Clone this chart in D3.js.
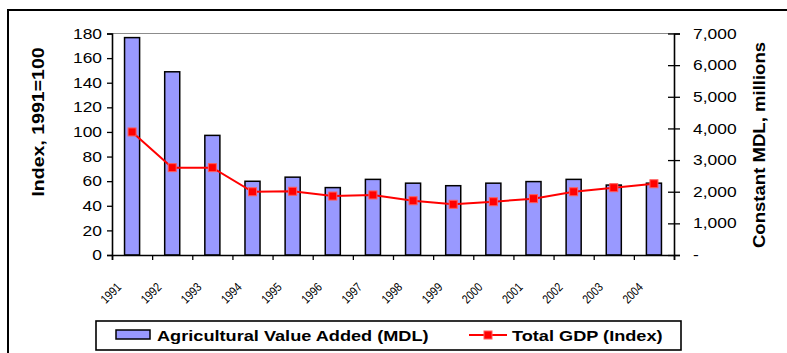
<!DOCTYPE html>
<html>
<head>
<meta charset="utf-8">
<script src="https://cdn.jsdelivr.net/npm/d3@7"></script>
<style>
  body { margin: 0; background: #fff; }
  svg { display: block; }
  text { font-family: "Liberation Sans", Arial, sans-serif; fill: #000; }
</style>
</head>
<body>
<svg id="chart" width="787" height="353"></svg>
<script>
// Moldova: agricultural value added (constant MDL, millions) and total GDP index (1991=100)
const years = ["1991","1992","1993","1994","1995","1996","1997","1998","1999","2000","2001","2002","2003","2004"];
const agriValueAdded = [6870, 5790, 3780, 2330, 2460, 2130, 2390, 2270, 2190, 2270, 2320, 2390, 2210, 2270];
const gdpIndex = [100, 71, 71, 51.4, 51.8, 47.9, 48.8, 44.1, 41.2, 43.3, 45.8, 51.4, 54.7, 57.9];
const indexTicks = [0, 20, 40, 60, 80, 100, 120, 140, 160, 180];
const mdlTicks = [0, 1000, 2000, 3000, 4000, 5000, 6000, 7000];
const legendLabels = ["Agricultural Value Added (MDL)", "Total GDP (Index)"];
const leftTitle = "Index, 1991=100";
const rightTitle = "Constant MDL, millions";

const svg = d3.select("#chart");
const plot = { left: 112, right: 674, top: 33.5, bottom: 255 };

// widen text horizontally, as the chart's typeface renders broad
function widen(sel, k) {
  sel.each(function () {
    const w = this.getComputedTextLength();
    this.setAttribute("textLength", (w * k).toFixed(1));
    this.setAttribute("lengthAdjust", "spacingAndGlyphs");
  });
}

// outer chart frame
svg.append("rect")
  .attr("x", 8).attr("y", 10).attr("width", 820).attr("height", 400)
  .attr("fill", "none").attr("stroke", "#000").attr("stroke-width", 2);

const x = d3.scaleBand().domain(years).range([plot.left, plot.right])
  .paddingInner(0.625).paddingOuter(0.3125);
const xEdge = d3.scaleLinear().domain([0, years.length]).range([plot.left, plot.right]);
const yIndex = d3.scaleLinear().domain([0, 180]).range([plot.bottom, plot.top]);
const yMdl = d3.scaleLinear().domain([0, 7000]).range([plot.bottom, plot.top]);

// plot area top edge
svg.append("line")
  .attr("x1", plot.left).attr("x2", plot.right)
  .attr("y1", plot.top).attr("y2", plot.top)
  .attr("stroke", "#8c8c8c").attr("stroke-width", 1);

// bars: agricultural value added on the right axis
svg.append("g").selectAll("rect").data(agriValueAdded).join("rect")
  .attr("x", (d, i) => x(years[i]))
  .attr("y", d => yMdl(d))
  .attr("width", x.bandwidth())
  .attr("height", d => yMdl(0) - yMdl(d))
  .attr("fill", "#9999FF")
  .attr("stroke", "#000").attr("stroke-width", 1.5);

// left axis
const gl = svg.append("g").attr("transform", `translate(${plot.left},0)`)
  .call(d3.axisLeft(yIndex).tickValues(indexTicks).tickSize(5).tickPadding(5).tickFormat(d3.format("d")));
gl.select(".domain").attr("stroke-width", 1.6);
gl.selectAll(".tick line").attr("stroke-width", 1.3);
gl.selectAll("text").attr("font-size", 14.5).attr("fill", "#000").call(widen, 1.2);

// right axis
const gr = svg.append("g").attr("transform", `translate(${plot.right},0)`)
  .call(d3.axisRight(yMdl).tickValues(mdlTicks).tickSize(6).tickPadding(13)
    .tickFormat(d => d === 0 ? "-" : d3.format(",")(d)));
gr.select(".domain").attr("stroke-width", 1.6);
gr.selectAll(".tick line").attr("x1", -6).attr("stroke-width", 1.3);
gr.selectAll("text").attr("font-size", 14.5).attr("fill", "#000").call(widen, 1.2);

// bottom axis: ticks at category boundaries
const gb = svg.append("g").attr("transform", `translate(0,${plot.bottom})`)
  .call(d3.axisBottom(xEdge).tickValues(d3.range(years.length + 1)).tickSize(5).tickFormat(""));
gb.select(".domain").attr("stroke-width", 1.6);
gb.selectAll(".tick line").attr("stroke-width", 1.3);

// rotated year labels
svg.append("g").selectAll("text").data(years).join("text")
  .attr("transform", d => `translate(${x(d) + x.bandwidth() / 2 - 10},288) rotate(-45)`)
  .attr("text-anchor", "end")
  .attr("font-size", 12.5)
  .attr("textLength", 23).attr("lengthAdjust", "spacingAndGlyphs")
  .text(d => d);

// GDP index line
const linePts = gdpIndex.map((v, i) => [x(years[i]) + x.bandwidth() / 2, yIndex(v)]);
svg.append("path")
  .attr("d", d3.line()(linePts))
  .attr("fill", "none").attr("stroke", "#FF0000").attr("stroke-width", 2);
svg.append("g").selectAll("rect").data(linePts).join("rect")
  .attr("x", d => d[0] - 4).attr("y", d => d[1] - 4)
  .attr("width", 8).attr("height", 8)
  .attr("fill", "#FF0000").attr("stroke", "#FF5C5C").attr("stroke-width", 1);

// axis titles
svg.append("text")
  .attr("transform", "translate(44,122) rotate(-90)")
  .attr("text-anchor", "middle").attr("font-size", 16).attr("font-weight", "bold")
  .text(leftTitle).call(widen, 1.22);
svg.append("text")
  .attr("transform", "translate(765,145) rotate(-90)")
  .attr("text-anchor", "middle").attr("font-size", 16).attr("font-weight", "bold")
  .text(rightTitle).call(widen, 1.16);

// legend
const lg = svg.append("g");
lg.append("rect").attr("x", 96).attr("y", 321).attr("width", 585).attr("height", 29)
  .attr("fill", "#fff").attr("stroke", "#000").attr("stroke-width", 1.6);
lg.append("rect").attr("x", 116).attr("y", 330).attr("width", 34).attr("height", 9)
  .attr("fill", "#9999FF").attr("stroke", "#000").attr("stroke-width", 1.5);
lg.append("text").attr("x", 157).attr("y", 341).attr("font-size", 15).attr("font-weight", "bold")
  .text(legendLabels[0]).call(widen, 1.21);
lg.append("line").attr("x1", 469).attr("x2", 507).attr("y1", 335).attr("y2", 335)
  .attr("stroke", "#FF0000").attr("stroke-width", 2);
lg.append("rect").attr("x", 484).attr("y", 331).attr("width", 8).attr("height", 8)
  .attr("fill", "#FF0000").attr("stroke", "#FF5C5C").attr("stroke-width", 1);
lg.append("text").attr("x", 512).attr("y", 341).attr("font-size", 15).attr("font-weight", "bold")
  .text(legendLabels[1]).call(widen, 1.21);
</script>
</body>
</html>
